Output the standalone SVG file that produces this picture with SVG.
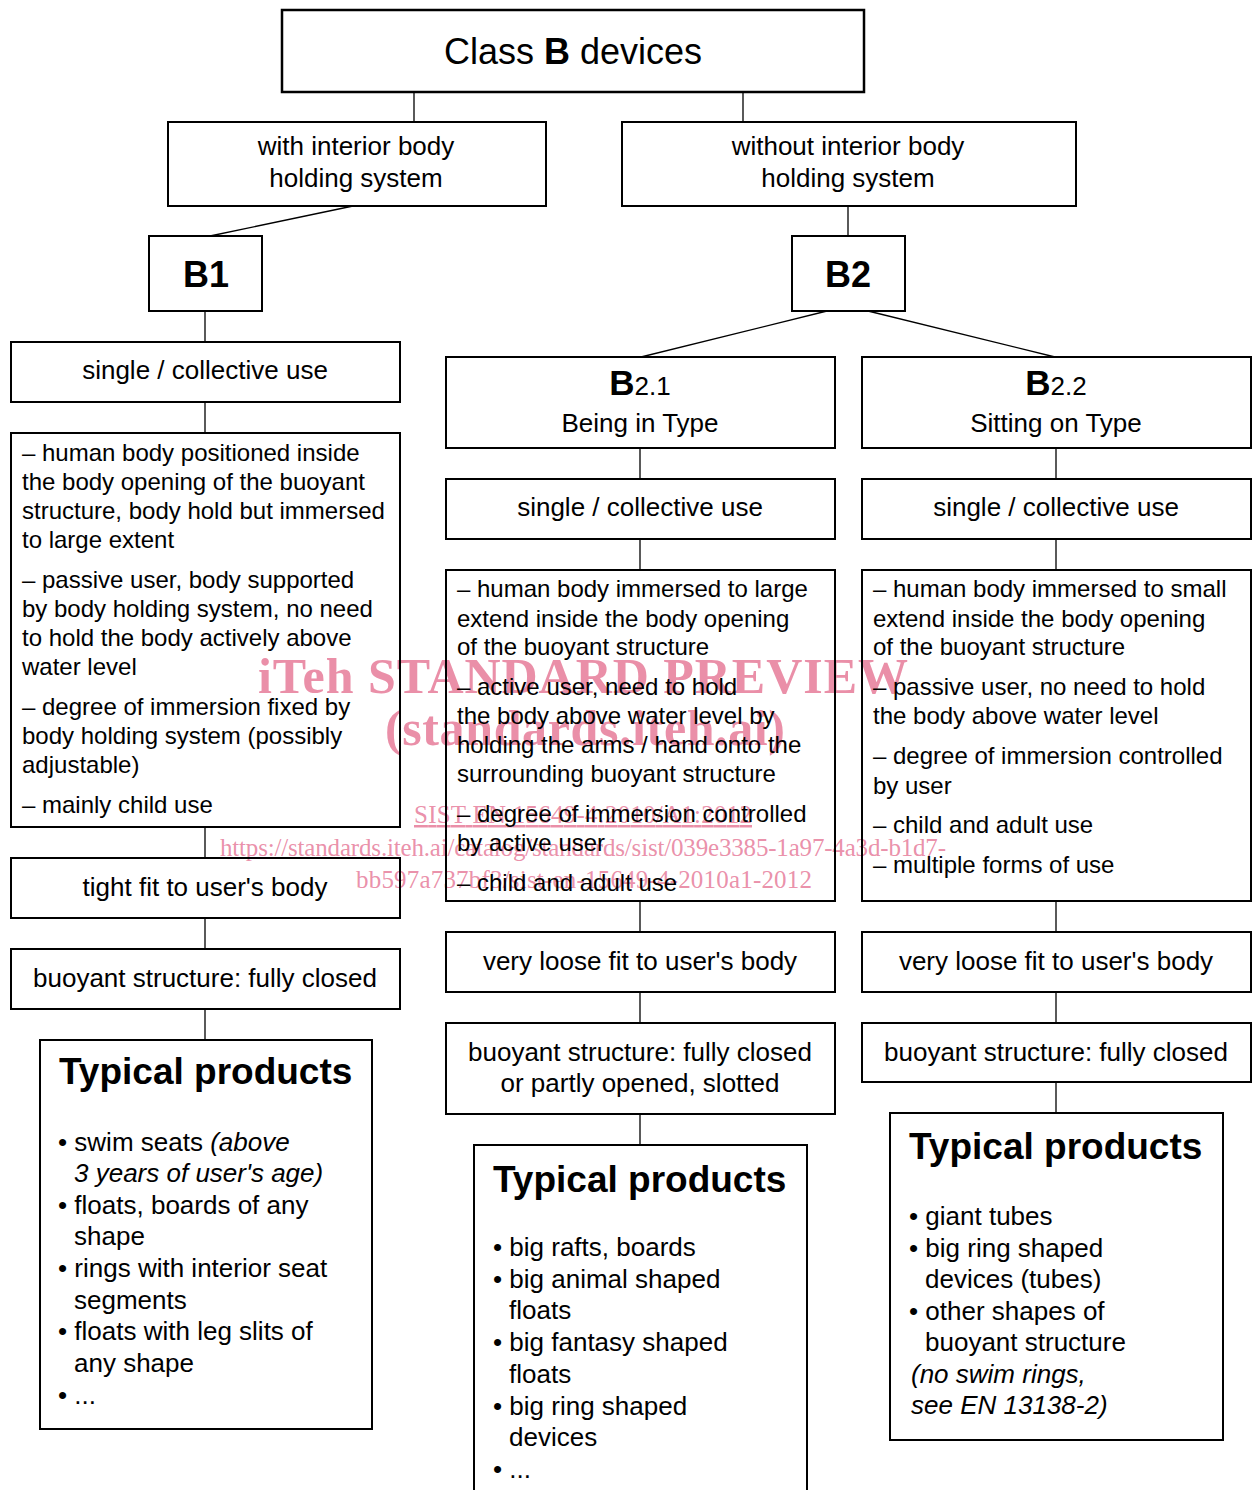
<svg xmlns="http://www.w3.org/2000/svg" width="1253" height="1490" viewBox="0 0 1253 1490">
<style>
.box{fill:none;stroke:#000;stroke-width:2}
.conn line{stroke:#000;stroke-width:1.3}
text{font-family:"Liberation Sans",Arial,sans-serif;fill:#000}
.lbl{font-size:26px;text-anchor:middle}
.txt{font-size:24px}
.itm{font-size:26px}
.ttl{font-size:37px;font-weight:bold}
.big{font-size:36px;text-anchor:middle}
.wm{font-family:"Liberation Serif","Times New Roman",serif;fill:#e8839f;fill-opacity:0.9}
.wmb{font-size:50px;font-weight:bold}
.wms{font-size:25px}
</style>
<rect width="1253" height="1490" fill="#fff"/>
<g id="watermark">
<text class="wm wmb" x="258" y="693" textLength="650">iTeh STANDARD PREVIEW</text>
<text class="wm wmb" x="385" y="745" textLength="400">(standards.iteh.ai)</text>
<text class="wm wms" x="414" y="823" textLength="338" text-decoration="underline">SIST EN 15649-4:2010/A1:2012</text>
<text class="wm wms" x="220" y="856" textLength="726">https://standards.iteh.ai/catalog/standards/sist/039e3385-1a97-4a3d-b1d7-</text>
<text class="wm wms" x="356" y="888" textLength="456">bb597a737bf3/sist-en-15649-4-2010a1-2012</text>
</g>
<g id="connectors" class="conn">
<line x1="414" y1="92" x2="414" y2="122"/>
<line x1="743" y1="92" x2="743" y2="122"/>
<line x1="353" y1="206" x2="210" y2="236"/>
<line x1="848" y1="206" x2="848" y2="236"/>
<line x1="205" y1="311" x2="205" y2="342"/>
<line x1="205" y1="402" x2="205" y2="433"/>
<line x1="205" y1="827" x2="205" y2="858"/>
<line x1="205" y1="918" x2="205" y2="949"/>
<line x1="205" y1="1009" x2="205" y2="1040"/>
<line x1="827" y1="311" x2="641" y2="357"/>
<line x1="868" y1="311" x2="1055" y2="357"/>
<line x1="640" y1="448" x2="640" y2="479"/>
<line x1="640" y1="539" x2="640" y2="570"/>
<line x1="640" y1="901" x2="640" y2="932"/>
<line x1="640" y1="992" x2="640" y2="1023"/>
<line x1="640" y1="1114" x2="640" y2="1145"/>
<line x1="1056" y1="448" x2="1056" y2="479"/>
<line x1="1056" y1="539" x2="1056" y2="570"/>
<line x1="1056" y1="901" x2="1056" y2="932"/>
<line x1="1056" y1="992" x2="1056" y2="1023"/>
<line x1="1056" y1="1082" x2="1056" y2="1113"/>
</g>
<g id="classB">
<rect class="box" x="282" y="10" width="582" height="82" style="stroke-width:2.5"/>
<text class="big" x="573" y="64">Class <tspan font-weight="bold">B</tspan> devices</text>
</g>
<g id="withInterior">
<rect class="box" x="168" y="122" width="378" height="84"/>
<text class="lbl" x="356" y="155">with interior body</text>
<text class="lbl" x="356" y="187">holding system</text>
</g>
<g id="withoutInterior">
<rect class="box" x="622" y="122" width="454" height="84"/>
<text class="lbl" x="848" y="155">without interior body</text>
<text class="lbl" x="848" y="187">holding system</text>
</g>
<g id="B1">
<rect class="box" x="149" y="236" width="113" height="75"/>
<text class="big" x="206" y="287" font-weight="bold">B1</text>
</g>
<g id="B2">
<rect class="box" x="792" y="236" width="113" height="75"/>
<text class="big" x="848" y="287" font-weight="bold">B2</text>
</g>
<g id="B1-use">
<rect class="box" x="11" y="342" width="389" height="60"/>
<text class="lbl" x="205" y="379">single / collective use</text>
</g>
<g id="B1-desc">
<rect class="box" x="11" y="433" width="389" height="394"/>
<text class="txt" x="22" y="461">– human body positioned inside</text>
<text class="txt" x="22" y="490">the body opening of the buoyant</text>
<text class="txt" x="22" y="519">structure, body hold but immersed</text>
<text class="txt" x="22" y="548">to large extent</text>
<text class="txt" x="22" y="588">– passive user, body supported</text>
<text class="txt" x="22" y="617">by body holding system, no need</text>
<text class="txt" x="22" y="646">to hold the body actively above</text>
<text class="txt" x="22" y="675">water level</text>
<text class="txt" x="22" y="715">– degree of immersion fixed by</text>
<text class="txt" x="22" y="744">body holding system (possibly</text>
<text class="txt" x="22" y="773">adjustable)</text>
<text class="txt" x="22" y="813">– mainly child use</text>
</g>
<g id="B1-fit">
<rect class="box" x="11" y="858" width="389" height="60"/>
<text class="lbl" x="205" y="896">tight fit to user's body</text>
</g>
<g id="B1-struct">
<rect class="box" x="11" y="949" width="389" height="60"/>
<text class="lbl" x="205" y="987">buoyant structure: fully closed</text>
</g>
<g id="B1-products">
<rect class="box" x="40" y="1040" width="332" height="389"/>
<text class="ttl" x="59" y="1084">Typical products</text>
<text class="itm" x="58" y="1151">• swim seats <tspan font-style="italic">(above</tspan></text>
<text class="itm" x="74" y="1182" font-style="italic">3 years of user's age)</text>
<text class="itm" x="58" y="1214">• floats, boards of any</text>
<text class="itm" x="74" y="1245">shape</text>
<text class="itm" x="58" y="1277">• rings with interior seat</text>
<text class="itm" x="74" y="1309">segments</text>
<text class="itm" x="58" y="1340">• floats with leg slits of</text>
<text class="itm" x="74" y="1372">any shape</text>
<text class="itm" x="58" y="1404">• ...</text>
</g>
<g id="B21">
<rect class="box" x="446" y="357" width="389" height="91"/>
<text class="lbl" x="640" y="395"><tspan font-weight="bold" font-size="35px">B</tspan>2.1</text>
<text class="lbl" x="640" y="432">Being in Type</text>
</g>
<g id="B22">
<rect class="box" x="862" y="357" width="389" height="91"/>
<text class="lbl" x="1056" y="395"><tspan font-weight="bold" font-size="35px">B</tspan>2.2</text>
<text class="lbl" x="1056" y="432">Sitting on Type</text>
</g>
<g id="B21-use">
<rect class="box" x="446" y="479" width="389" height="60"/>
<text class="lbl" x="640" y="516">single / collective use</text>
</g>
<g id="B22-use">
<rect class="box" x="862" y="479" width="389" height="60"/>
<text class="lbl" x="1056" y="516">single / collective use</text>
</g>
<g id="B21-desc">
<rect class="box" x="446" y="570" width="389" height="331"/>
<text class="txt" x="457" y="597">– human body immersed to large</text>
<text class="txt" x="457" y="627">extend inside the body opening</text>
<text class="txt" x="457" y="655">of the buoyant structure</text>
<text class="txt" x="457" y="695">– active user, need to hold</text>
<text class="txt" x="457" y="724">the body above water level by</text>
<text class="txt" x="457" y="753">holding the arms / hand onto the</text>
<text class="txt" x="457" y="782">surrounding buoyant structure</text>
<text class="txt" x="457" y="822">– degree of immersion controlled</text>
<text class="txt" x="457" y="851">by active user</text>
<text class="txt" x="457" y="891">– child and adult use</text>
</g>
<g id="B22-desc">
<rect class="box" x="862" y="570" width="389" height="331"/>
<text class="txt" x="873" y="597">– human body immersed to small</text>
<text class="txt" x="873" y="627">extend inside the body opening</text>
<text class="txt" x="873" y="655">of the buoyant structure</text>
<text class="txt" x="873" y="695">– passive user, no need to hold</text>
<text class="txt" x="873" y="724">the body above water level</text>
<text class="txt" x="873" y="764">– degree of immersion controlled</text>
<text class="txt" x="873" y="794">by user</text>
<text class="txt" x="873" y="833">– child and adult use</text>
<text class="txt" x="873" y="873">– multiple forms of use</text>
</g>
<g id="B21-fit">
<rect class="box" x="446" y="932" width="389" height="60"/>
<text class="lbl" x="640" y="970">very loose fit to user's body</text>
</g>
<g id="B22-fit">
<rect class="box" x="862" y="932" width="389" height="60"/>
<text class="lbl" x="1056" y="970">very loose fit to user's body</text>
</g>
<g id="B21-struct">
<rect class="box" x="446" y="1023" width="389" height="91"/>
<text class="lbl" x="640" y="1061">buoyant structure: fully closed</text>
<text class="lbl" x="640" y="1092">or partly opened, slotted</text>
</g>
<g id="B22-struct">
<rect class="box" x="862" y="1023" width="389" height="59"/>
<text class="lbl" x="1056" y="1061">buoyant structure: fully closed</text>
</g>
<g id="B21-products">
<path class="box" d="M474,1492 V1145 H807 V1492"/>
<text class="ttl" x="493" y="1192">Typical products</text>
<text class="itm" x="493" y="1256">• big rafts, boards</text>
<text class="itm" x="493" y="1288">• big animal shaped</text>
<text class="itm" x="509" y="1319">floats</text>
<text class="itm" x="493" y="1351">• big fantasy shaped</text>
<text class="itm" x="509" y="1383">floats</text>
<text class="itm" x="493" y="1415">• big ring shaped</text>
<text class="itm" x="509" y="1446">devices</text>
<text class="itm" x="493" y="1478">• ...</text>
</g>
<g id="B22-products">
<rect class="box" x="890" y="1113" width="333" height="327"/>
<text class="ttl" x="909" y="1159">Typical products</text>
<text class="itm" x="909" y="1225">• giant tubes</text>
<text class="itm" x="909" y="1257">• big ring shaped</text>
<text class="itm" x="925" y="1288">devices (tubes)</text>
<text class="itm" x="909" y="1320">• other shapes of</text>
<text class="itm" x="925" y="1351">buoyant structure</text>
<text class="itm" x="911" y="1383" font-style="italic">(no swim rings,</text>
<text class="itm" x="911" y="1414" font-style="italic">see EN 13138-2)</text>
</g>
</svg>
